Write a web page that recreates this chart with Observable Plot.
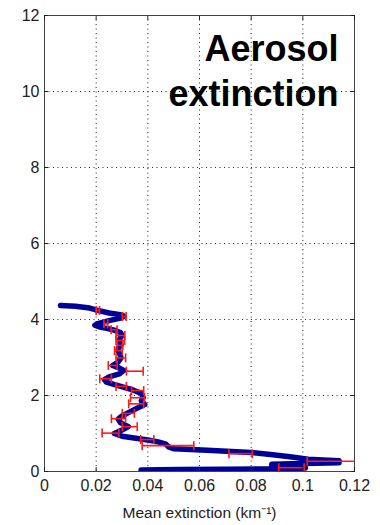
<!DOCTYPE html>
<html><head><meta charset="utf-8">
<script src="https://cdn.jsdelivr.net/npm/d3@7"></script>
<script src="https://cdn.jsdelivr.net/npm/@observablehq/plot@0.6"></script>
<style>
html,body{margin:0;padding:0;background:#fff;}
#chart{width:380px;height:525px;}
</style></head><body><div id="chart"></div>
<script>
// Blue profile: mean extinction (km^-1) vs altitude (km)
const profileExt = [0.0062,0.0120,0.0175,0.0206,0.0250,0.0300,0.0307,0.0290,0.0250,0.0210,0.0195,0.0215,0.0245,0.0270,0.0295,0.0300,0.0292,0.0290,0.0296,0.0286,0.0284,0.0292,0.0296,0.0285,0.0264,0.0290,0.0307,0.0290,0.0250,0.0232,0.0240,0.0265,0.0295,0.0345,0.0375,0.0382,0.0375,0.0388,0.0360,0.0325,0.0300,0.0285,0.0295,0.0325,0.0300,0.0270,0.0300,0.0360,0.0400,0.0440,0.0470,0.0480,0.0500,0.0630,0.0800,0.0875,0.0950,0.1020,0.1140,0.1140,0.1000,0.0880,0.0880,0.0980,0.1010,0.0950,0.0700,0.0520,0.0374];
const profileAlt = [4.37,4.35,4.30,4.24,4.17,4.12,4.08,4.03,3.97,3.90,3.85,3.80,3.76,3.72,3.65,3.58,3.50,3.42,3.33,3.25,3.18,3.08,2.99,2.88,2.79,2.72,2.66,2.57,2.49,2.42,2.35,2.30,2.24,2.14,2.05,1.95,1.86,1.76,1.67,1.55,1.46,1.38,1.28,1.18,1.09,1.00,0.93,0.87,0.83,0.78,0.72,0.65,0.60,0.56,0.50,0.45,0.39,0.32,0.28,0.23,0.21,0.19,0.14,0.12,0.09,0.07,0.06,0.05,0.04];
// Red error bars
const errAlt = [4.24,4.08,3.89,3.73,3.58,3.45,3.32,3.18,2.99,2.79,2.64,2.44,2.24,2.13,1.94,1.78,1.53,1.39,1.18,1.01,0.84,0.68,0.47,0.27,0.10];
const errLo  = [0.0200,0.0301,0.0230,0.0258,0.0277,0.0277,0.0281,0.0271,0.0277,0.0247,0.0317,0.0214,0.0277,0.0337,0.0333,0.0326,0.0301,0.0259,0.0301,0.0223,0.0372,0.0378,0.0714,0.1017,0.0907];
const errHi  = [0.0213,0.0316,0.0245,0.0281,0.0311,0.0310,0.0303,0.0301,0.0314,0.0281,0.0382,0.0259,0.0317,0.0384,0.0387,0.0384,0.0348,0.0314,0.0359,0.0288,0.0423,0.0578,0.0804,0.1290,0.1005];
const xTicks = [0,0.02,0.04,0.06,0.08,0.1,0.12];
const yTicks = [0,2,4,6,8,10,12];
const titleText = "Aerosol\nextinction";
const xLabel = "Mean extinction (km\u207B\u00B9)";

const profile = profileAlt.map((a,i)=>({alt:a, ext:profileExt[i]}));
const errs = errAlt.map((a,i)=>({alt:a, lo:errLo[i], hi:errHi[i]}));
const capSymbol = {draw(ctx, size){const h=Math.sqrt(size/Math.PI); ctx.moveTo(0,-h); ctx.lineTo(0,h);}};
const font = "'Liberation Sans', Arial, sans-serif";
const red = "#ff1a1a";
const fmt = d => String(+(+d).toFixed(2));

const plot = Plot.plot({
  width:380, height:525,
  marginLeft:44, marginRight:26, marginTop:15, marginBottom:54,
  style:{fontFamily:font, background:"#fff", color:"#222"},
  x:{domain:[0,0.12]},
  y:{domain:[0,12]},
  marks:[
    Plot.gridX({ticks:xTicks.slice(1,-1), stroke:"#000", strokeOpacity:0.85, strokeDasharray:"1,3.5"}),
    Plot.gridY({ticks:yTicks.slice(1,-1), stroke:"#000", strokeOpacity:0.85, strokeDasharray:"1,3.5"}),
    Plot.line(profile, {x:"ext", y:"alt", stroke:"#000096", strokeWidth:5.5, strokeLinejoin:"round", clip:true}),
    Plot.ruleY(errs, {y:"alt", x1:"lo", x2:"hi", stroke:red, strokeWidth:1.6, clip:true}),
    Plot.dot(errs, {x:"lo", y:"alt", symbol:capSymbol, r:4.5, stroke:red, strokeWidth:1.6, fill:"none", clip:true}),
    Plot.dot(errs, {x:"hi", y:"alt", symbol:capSymbol, r:4.5, stroke:red, strokeWidth:1.6, fill:"none", clip:true}),
    Plot.frame({stroke:"#444", strokeWidth:1}),
    Plot.axisX({ticks:xTicks, anchor:"bottom", tickSize:-4, tickPadding:12, tickFormat:fmt, fontSize:16, color:"#222", label:null}),
    Plot.axisX({ticks:xTicks, anchor:"top", tickSize:-4, tickFormat:()=>"", color:"#222", label:null}),
    Plot.axisY({ticks:yTicks, anchor:"left", tickSize:-4, tickPadding:9, tickFormat:fmt, fontSize:16, color:"#222", label:null}),
    Plot.axisY({ticks:yTicks, anchor:"right", tickSize:-4, tickFormat:()=>"", color:"#222", label:null}),
    Plot.text([xLabel], {frameAnchor:"bottom", lineAnchor:"bottom", dy:46, fontSize:15.5, fill:"#222"}),
    Plot.text([titleText], {frameAnchor:"top-right", textAnchor:"end", lineAnchor:"top", dx:-16, dy:14, fontSize:36, fontWeight:"bold", lineHeight:1.25, fill:"#000"})
  ]
});
document.getElementById("chart").appendChild(plot);
</script></body></html>
